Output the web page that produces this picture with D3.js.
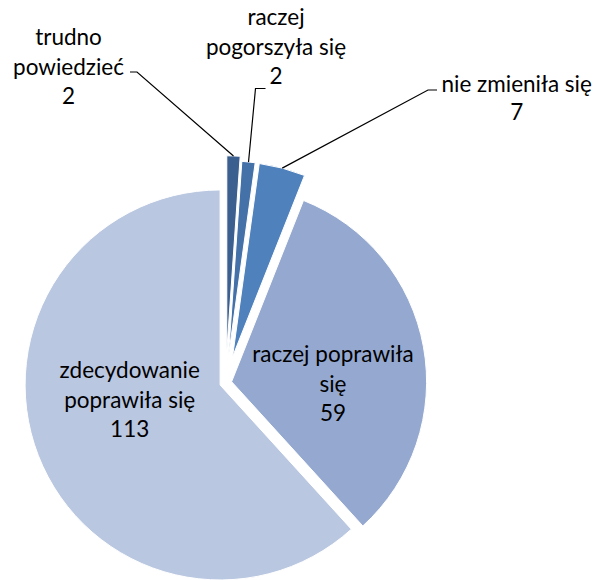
<!DOCTYPE html>
<html><head><meta charset="utf-8">
<script src="https://cdn.jsdelivr.net/npm/d3@7"></script>
<style>
body{margin:0;background:#fff;}
svg text{font-family:Lato, "Open Sans", sans-serif; fill:#000;}
</style>
</head><body>
<svg id="chart" width="596" height="580"></svg>
<script>
// ---- data ----
const categories = ["trudno powiedzieć", "raczej pogorszyła się", "nie zmieniła się", "raczej poprawiła się", "zdecydowanie poprawiła się"];
const values = [2, 2, 7, 59, 113];
const labelLines = [["trudno", "powiedzieć"], ["raczej", "pogorszyła się"], ["nie zmieniła się"], ["raczej poprawiła", "się"], ["zdecydowanie", "poprawiła się"]];
const colors = ["#3b5f8e", "#4571a9", "#4f81bd", "#95a9d0", "#bac7e1"];

// ---- layout ----
const cx = 225.7, cy = 382.8, R = 195;
const explode = [32, 27, 27, 6, 6];
const fontSize = 22.5, lineH = 29.5;
// label anchor: x centre, baseline of first line
const outside = [
  {x: 68.5, y: 45, leader: [[130, 72], [137, 72]]},
  {x: 276, y: 25, leader: [[265.5, 88.5], [255.5, 88.5]]},
  {x: 516.7, y: 92, leader: [[437, 90], [428, 90]], lh: 28.3},
  null, null
];
const insideAngleShift = 11.7 * Math.PI / 180;
const insideRadius = [0, 0, 0, 0.52, 0.47];

const svg = d3.select("#chart");
const pie = d3.pie().sort(null).value(d => d)(values);
const arc = d3.arc().innerRadius(0).outerRadius(R);

const g = svg.append("g").attr("transform", `translate(${cx},${cy})`);

function off(d, i) {
  const a = (d.startAngle + d.endAngle) / 2;
  return [Math.sin(a) * explode[i], -Math.cos(a) * explode[i]];
}

g.selectAll("path.slice").data(pie).join("path")
  .attr("class", "slice")
  .attr("d", arc)
  .attr("fill", (d, i) => colors[i])
  .attr("stroke", "#fff").attr("stroke-width", 1)
  .attr("transform", (d, i) => { const o = off(d, i); return `translate(${o[0]},${o[1]})`; });

// leader lines
pie.forEach((d, i) => {
  const L = outside[i];
  if (!L) return;
  const a = (d.startAngle + d.endAngle) / 2;
  const o = off(d, i);
  const px = cx + o[0] + Math.sin(a) * R, py = cy + o[1] - Math.cos(a) * R;
  const pts = L.leader.concat([[px, py]]);
  svg.append("path").attr("d", d3.line()(pts))
    .attr("fill", "none").attr("stroke", "#000").attr("stroke-width", 1.2);
});

// labels
pie.forEach((d, i) => {
  const lines = labelLines[i].concat([String(values[i])]);
  let x, y, lh = lineH;
  const L = outside[i];
  if (L) { x = L.x; y = L.y; if (L.lh) lh = L.lh; }
  else {
    const a = (d.startAngle + d.endAngle) / 2 + insideAngleShift;
    const o = off(d, i);
    const r = R * insideRadius[i];
    const mx = cx + o[0] + Math.sin(a) * r, my = cy + o[1] - Math.cos(a) * r;
    x = mx;
    y = my - (lines.length - 1) / 2 * lh + fontSize * 0.34;
  }
  const t = svg.append("text").attr("text-anchor", "middle").attr("font-size", fontSize);
  lines.forEach((s, k) => t.append("tspan").attr("x", x).attr("y", y + k * lh).text(s));
});
</script>
</body></html>
